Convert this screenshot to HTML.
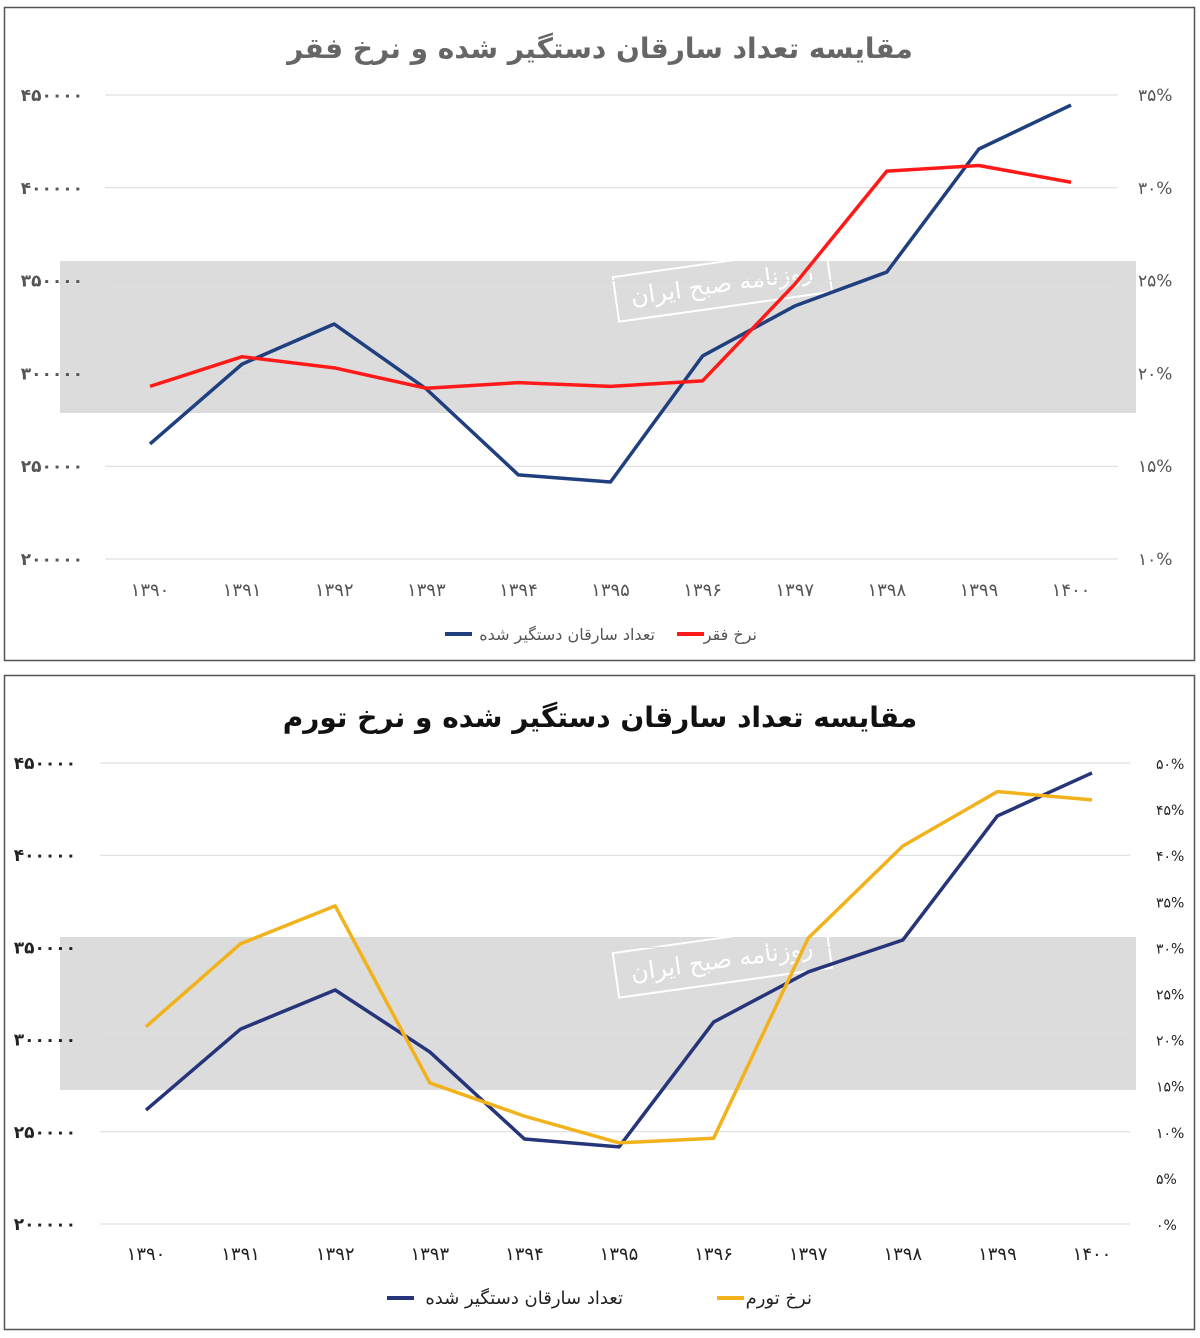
<!DOCTYPE html>
<html><head><meta charset="utf-8">
<style>
html,body{margin:0;padding:0;background:#fff;}
svg{display:block;font-family:"DejaVu Sans","Liberation Sans",sans-serif;}
</style></head>
<body>
<svg id="c" width="1200" height="1338" viewBox="0 0 1200 1338" xmlns="http://www.w3.org/2000/svg">
<rect x="0" y="0" width="1200" height="1338" fill="#fff"/>
<rect x="4.5" y="7.5" width="1190" height="653" fill="#fff" stroke="#555" stroke-width="1.5"/>
<rect x="4.5" y="675.5" width="1190" height="654" fill="#fff" stroke="#555" stroke-width="1.5"/>
<rect x="60" y="261" width="1076" height="152" fill="#dcdcdc"/>
<rect x="60" y="937" width="1076" height="153" fill="#dcdcdc"/>
<g><rect x="615" y="262" width="215" height="45" fill="none" stroke="#fff" stroke-width="2" transform="rotate(-8 722 285)"/><text x="722" y="292" text-anchor="middle" font-size="24" fill="#fff" transform="rotate(-8 722 285)">روزنامه صبح ایران</text></g>
<g><rect x="615" y="938" width="215" height="45" fill="none" stroke="#fff" stroke-width="2" transform="rotate(-8 722 961)"/><text x="722" y="968" text-anchor="middle" font-size="24" fill="#fff" transform="rotate(-8 722 961)">روزنامه صبح ایران</text></g>
<text x="600" y="58" text-anchor="middle" font-size="28" font-weight="bold" fill="#666" direction="rtl">مقایسه تعداد سارقان دستگیر شده و نرخ فقر</text>
<text x="600" y="727" text-anchor="middle" font-size="28" font-weight="bold" fill="#111" direction="rtl">مقایسه تعداد سارقان دستگیر شده و نرخ تورم</text>
<g id="g1"></g><g id="g2"></g>
</svg>
<script>
const years = ["۱۳۹۰","۱۳۹۱","۱۳۹۲","۱۳۹۳","۱۳۹۴","۱۳۹۵","۱۳۹۶","۱۳۹۷","۱۳۹۸","۱۳۹۹","۱۴۰۰"];
const leftTicks = [200000,250000,300000,350000,400000,450000];
const leftTickLabels = ["۲۰۰۰۰۰","۲۵۰۰۰۰","۳۰۰۰۰۰","۳۵۰۰۰۰","۴۰۰۰۰۰","۴۵۰۰۰۰"];
const povertyTicks = [10,15,20,25,30,35];
const povertyTickLabels = ["۱۰%","۱۵%","۲۰%","۲۵%","۳۰%","۳۵%"];
const inflationTicks = [0,5,10,15,20,25,30,35,40,45,50];
const inflationTickLabels = ["۰%","۵%","۱۰%","۱۵%","۲۰%","۲۵%","۳۰%","۳۵%","۴۰%","۴۵%","۵۰%"];
const thievesTop = [262000,305000,326600,291600,245300,241500,309400,336300,354600,420900,444600];
const poverty = [19.3,20.9,20.3,19.2,19.5,19.3,19.6,24.8,30.9,31.2,30.3];
const thievesBottom = [261800,305700,326900,293300,246100,241800,309500,336700,354000,421300,444600];
const inflation = [21.4,30.4,34.5,15.3,11.7,8.8,9.3,31.0,41.0,46.9,46.0];

const NS="http://www.w3.org/2000/svg";
function mk(parent,tag,attrs,txt){const e=document.createElementNS(NS,tag);for(const k in attrs)e.setAttribute(k,attrs[k]);if(txt!==undefined)e.textContent=txt;parent.appendChild(e);return e;}

function drawChart(g,cfg){
  const yL=v=>cfg.yBottom-(v-200000)/250000*(cfg.yBottom-cfg.yTop);
  const yR=v=>cfg.yBottom-(v-cfg.rMin)/(cfg.rMax-cfg.rMin)*(cfg.yBottom-cfg.yTop);
  const x=i=>cfg.x0+i*cfg.dx;
  leftTicks.forEach((t,i)=>{
    const gl=mk(g,'line',{x1:cfg.gx1,x2:cfg.gx2,y1:yL(t),y2:yL(t),stroke:'#d9d9d9','stroke-width':1});
    
    
    const tl=mk(g,'text',{x:cfg.lx,y:yL(t)+6,'text-anchor':'end','font-size':17,'font-weight':'bold',fill:cfg.tickColor},leftTickLabels[i]);
    
    
  });
  cfg.rTicks.forEach((t,i)=>{
    const tl=mk(g,'text',{x:cfg.rx,y:yR(t)+6,'text-anchor':'start','font-size':cfg.rFont,fill:cfg.tickColor},cfg.rLabels[i]);
    
    
  });
  years.forEach((yv,i)=>{
    const tl=mk(g,'text',{x:x(i),y:cfg.xLabelY,'text-anchor':'middle','font-size':18,fill:cfg.tickColor},yv);
    
    
  });
  const p1=mk(g,'polyline',{points:cfg.left.map((v,i)=>x(i)+','+yL(v)).join(' '),fill:'none',stroke:cfg.leftColor,'stroke-width':3.5,'stroke-linejoin':'round'});
  
  
  const p2=mk(g,'polyline',{points:cfg.right.map((v,i)=>x(i)+','+yR(v)).join(' '),fill:'none',stroke:cfg.rightColor,'stroke-width':3.5,'stroke-linejoin':'round'});
  
  
  // legend
  const l1=mk(g,'line',{x1:cfg.leg[0],x2:cfg.leg[0]+27,y1:cfg.legY,y2:cfg.legY,stroke:cfg.leftColor,'stroke-width':4});
  
  
  const t1=mk(g,'text',{x:cfg.leg[1],y:cfg.legY+6,'text-anchor':'end','font-size':cfg.legFont,fill:cfg.legColor},'تعداد سارقان دستگیر شده');
  
  
  const l2=mk(g,'line',{x1:cfg.leg[2],x2:cfg.leg[2]+27,y1:cfg.legY,y2:cfg.legY,stroke:cfg.rightColor,'stroke-width':4});
  
  
  const t2=mk(g,'text',{x:cfg.leg[3],y:cfg.legY+6,'text-anchor':'end','font-size':cfg.legFont,fill:cfg.legColor},cfg.rightLabel);
  
  
}
drawChart(document.getElementById('g1'),{yTop:95,yBottom:559,rMin:10,rMax:35,x0:150,dx:92.1,gx1:105,gx2:1118,lx:83,rx:1138,rFont:17,
  rTicks:povertyTicks,rLabels:povertyTickLabels,xLabelY:596,tickColor:'#555',left:thievesTop,right:poverty,leftColor:'#1f3f7f',rightColor:'#ff1a1a',
  rightName:'poverty',rightLabel:'نرخ فقر',leg:[445,655,677,757],legY:634,legFont:16,legColor:'#555'});
drawChart(document.getElementById('g2'),{yTop:763,yBottom:1224,rMin:0,rMax:50,x0:146,dx:94.6,gx1:100,gx2:1130,lx:76,rx:1156,rFont:14,
  rTicks:inflationTicks,rLabels:inflationTickLabels,xLabelY:1260,tickColor:'#222',left:thievesBottom,right:inflation,leftColor:'#26357a',rightColor:'#f2b21c',
  rightName:'inflation',rightLabel:'نرخ تورم',leg:[387,623,717,812],legY:1298,legFont:18,legColor:'#222'});
</script>
</body></html>
